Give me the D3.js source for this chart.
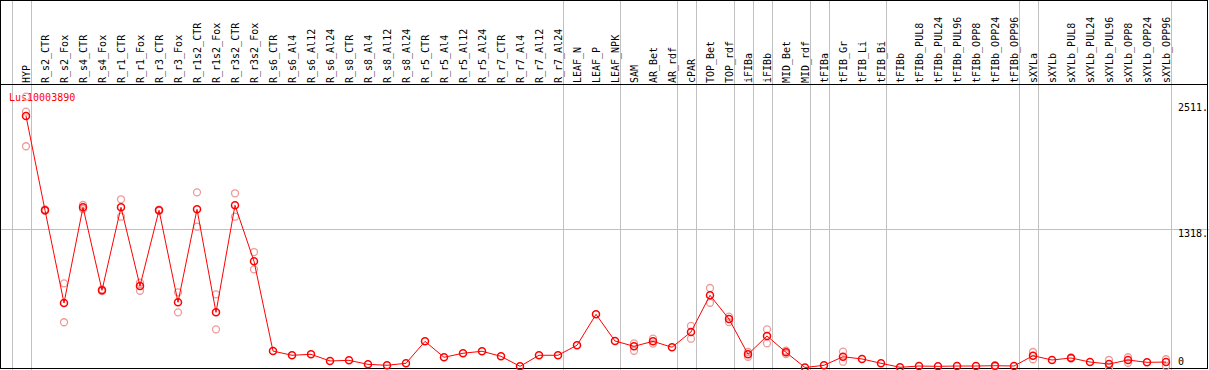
<!DOCTYPE html>
<html>
<head>
<meta charset="utf-8">
<script src="https://cdn.jsdelivr.net/npm/d3@7"></script>
<style>
  html, body { margin: 0; padding: 0; background: #fff; }
  svg { display: block; }
  text { font-family: "DejaVu Sans Mono", "Liberation Mono", monospace; }
</style>
</head>
<body>
<svg id="chart" width="1209" height="370"></svg>
<script>
const categories = ["HYP","R_s2_CTR","R_s2_Fox","R_s4_CTR","R_s4_Fox","R_r1_CTR","R_r1_Fox","R_r3_CTR","R_r3_Fox","R_r1s2_CTR","R_r1s2_Fox","R_r3s2_CTR","R_r3s2_Fox","R_s6_CTR","R_s6_Al4","R_s6_Al12","R_s6_Al24","R_s8_CTR","R_s8_Al4","R_s8_Al12","R_s8_Al24","R_r5_CTR","R_r5_Al4","R_r5_Al12","R_r5_Al24","R_r7_CTR","R_r7_Al4","R_r7_Al12","R_r7_Al24","LEAF_N","LEAF_P","LEAF_NPK","SAM","AR_Bet","AR_rdf","cPAR","TOP_Bet","TOP_rdf","iFIBa","iFIBb","MID_Bet","MID_rdf","tFIBa","tFIB_Gr","tFIB_Li","tFIB_Bi","tFIBb","tFIBb_PUL8","tFIBb_PUL24","tFIBb_PUL96","tFIBb_OPP8","tFIBb_OPP24","tFIBb_OPP96","sXYLa","sXYLb","sXYLb_PUL8","sXYLb_PUL24","sXYLb_PUL96","sXYLb_OPP8","sXYLb_OPP24","sXYLb_OPP96"];

const meanValues = [2385,1491,612,1519,732,1519,773,1491,618,1500,523,1538,1007,156,116,125,62,68,30,21,40,248,97,135,154,106,11,116,116,211,504,251,201,248,192,337,685,460,125,299,144,0,21,102,81,40,2,14,11,14,14,17,14,112,71,90,52,33,71,49,52];

// replicate measurements: [category, value]
const replicates = [
  ["HYP",2568],["HYP",2426],["HYP",2098],
  ["R_s2_CTR",1485],["R_s2_CTR",1500],
  ["R_s2_Fox",798],["R_s2_Fox",429],
  ["R_s4_CTR",1541],["R_s4_CTR",1503],
  ["R_s4_Fox",725],["R_s4_Fox",740],
  ["R_r1_CTR",1595],["R_r1_CTR",1430],
  ["R_r1_Fox",804],["R_r1_Fox",728],
  ["R_r3_CTR",1485],["R_r3_CTR",1497],
  ["R_r3_Fox",713],["R_r3_Fox",523],
  ["R_r1s2_CTR",1661],["R_r1s2_CTR",1335],
  ["R_r1s2_Fox",694],["R_r1s2_Fox",362],
  ["R_r3s2_CTR",1652],["R_r3s2_CTR",1430],
  ["R_r3s2_Fox",1095],["R_r3s2_Fox",931],
  ["SAM",229],["SAM",159],
  ["AR_Bet",273],["AR_Bet",227],
  ["cPAR",394],["cPAR",273],
  ["TOP_Bet",754],["TOP_Bet",614],
  ["TOP_rdf",482],["TOP_rdf",431],
  ["iFIBa",147],["iFIBa",102],
  ["iFIBb",362],["iFIBb",229],
  ["MID_Bet",159],["MID_Bet",128],
  ["tFIB_Gr",150],["tFIB_Gr",55],
  ["tFIBb_OPP24",22],["tFIBb_OPP24",12],
  ["sXYLa",147],["sXYLa",78],
  ["sXYLb_PUL8",95],["sXYLb_PUL8",85],
  ["sXYLb_PUL96",71],["sXYLb_PUL96",0],
  ["sXYLb_OPP8",97],["sXYLb_OPP8",45],
  ["sXYLb_OPP96",78],["sXYLb_OPP96",14]
];

const yTickValues = [2511, 1318, 0];
const yTickLabels = ["2511.", "1318.", "0"];
const gridAfter = ["HYP","R_r7_Al24","LEAF_NPK","AR_rdf","cPAR","TOP_rdf","iFIBa","iFIBb","MID_rdf","tFIBa","tFIB_Bi","tFIBb_OPP96","sXYLa","sXYLb_OPP96"];
const geneName = "Lus10003890";

const W = 1209, H = 370;
const svg = d3.select("#chart");

const x = d3.scalePoint().domain(categories).range([26, 1166]).padding(0);
const step = x.step();
const y = d3.scaleLinear().domain([0, 2511]).range([367.5, 102.7]);

const grid = svg.append("g").attr("shape-rendering", "crispEdges");
// leading separator before first category
const sepX = [x(categories[0]) - step + 4.5].concat(gridAfter.map(c => x(c) + 4.5));
grid.selectAll("line.v").data(sepX).join("line")
  .attr("class", "v")
  .attr("x1", d => Math.round(d) + 0.5).attr("x2", d => Math.round(d) + 0.5)
  .attr("y1", 0).attr("y2", H)
  .attr("stroke", "#c0c0c0").attr("stroke-width", 1);

// horizontal mid gridline
grid.append("line")
  .attr("x1", 0).attr("x2", W)
  .attr("y1", Math.round(y(1318)) + 0.5).attr("y2", Math.round(y(1318)) + 0.5)
  .attr("stroke", "#c0c0c0").attr("stroke-width", 1);

// frame
const frame = svg.append("g").attr("shape-rendering", "crispEdges");
frame.append("rect").attr("x", 0.5).attr("y", 0.5).attr("width", 1207).attr("height", 368)
  .attr("fill", "none").attr("stroke", "#000").attr("stroke-width", 1.5);
frame.append("line").attr("x1", 0).attr("x2", 1208).attr("y1", 84.5).attr("y2", 84.5)
  .attr("stroke", "#000").attr("stroke-width", 1.5);

// category labels
svg.append("g").selectAll("text").data(categories).join("text")
  .attr("transform", d => `translate(${x(d) + 4},83) rotate(-90)`)
  .attr("font-size", 10)
  .attr("fill", "#000")
  .text(d => d);

// y labels
svg.append("g").selectAll("text").data(yTickValues).join("text")
  .attr("x", 1178)
  .attr("y", (d, i) => i === 2 ? 365 : y(d) + 8.3)
  .attr("font-size", 10)
  .attr("fill", "#000")
  .text((d, i) => yTickLabels[i]);

// gene label
svg.append("text").attr("x", 9).attr("y", 101).attr("font-size", 10)
  .attr("fill", "#ff0000").text(geneName);

// replicate circles
svg.append("g").selectAll("circle").data(replicates).join("circle")
  .attr("cx", d => x(d[0])).attr("cy", d => y(d[1])).attr("r", 3.5)
  .attr("fill", "none").attr("stroke", "#ee9a9a").attr("stroke-width", 1.3);

// mean line
const line = d3.line().x((d, i) => x(categories[i])).y(d => y(d));
svg.append("path").datum(meanValues).attr("d", line)
  .attr("fill", "none").attr("stroke", "#ff0000").attr("stroke-width", 1);

// mean circles
svg.append("g").selectAll("circle").data(meanValues).join("circle")
  .attr("cx", (d, i) => x(categories[i])).attr("cy", d => y(d)).attr("r", 3.5)
  .attr("fill", "none").attr("stroke", "#ff0000").attr("stroke-width", 1.5);
</script>
</body>
</html>
